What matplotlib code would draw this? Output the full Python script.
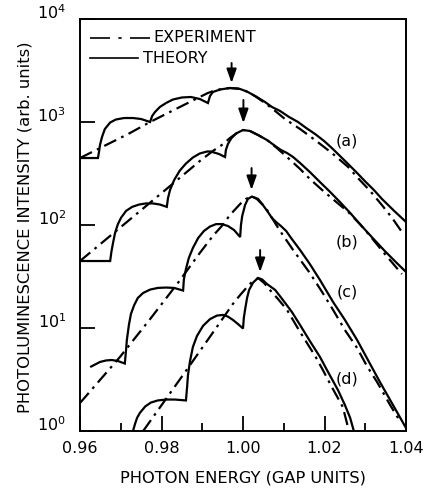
import matplotlib
matplotlib.use("Agg")
from matplotlib import pyplot as plt
from matplotlib.lines import Line2D
from matplotlib.ticker import NullLocator

# ---- data (photon energy in gap units, PL intensity arb. units) ----
theory_a_x = [0.9600, 0.9644, 0.9647, 0.9649, 0.9654, 0.9661, 0.9674, 0.9688, 0.9708, 0.9730,
              0.9750, 0.9772, 0.9777, 0.9784, 0.9796, 0.9811, 0.9828, 0.9850, 0.9872, 0.9894,
              0.9914, 0.9919, 0.9926, 0.9944, 0.9968, 0.9993, 1.0012, 1.0034, 1.0054, 1.0071,
              1.0091, 1.0113, 1.0135, 1.0155, 1.0177, 1.0199, 1.0218, 1.0238, 1.0258, 1.0280,
              1.0299, 1.0321, 1.0341, 1.0371, 1.0400]
theory_a_y = [447, 447, 523, 598, 715, 855, 989, 1057, 1093, 1093,
              1069, 1000, 1143, 1250, 1399, 1528, 1653, 1730, 1749, 1672,
              1528, 1788, 1955, 2069, 2138, 2091, 1955, 1749, 1564, 1399,
              1279, 1119, 1000, 875, 764, 654, 559, 468, 391, 320,
              267, 219, 179, 137, 107]

exp_a_x = [0.9600, 0.9718, 0.9772, 0.9840, 0.9894, 0.9914, 0.9931, 0.9948, 0.9968, 0.9988,
           1.0007, 1.0029, 1.0054, 1.0079, 1.0103, 1.0140, 1.0177, 1.0218, 1.0258, 1.0282,
           1.0312, 1.0341, 1.0366, 1.0390]
exp_a_y = [447, 764, 1000, 1367, 1749, 1914, 2022, 2091, 2138, 2115,
           2000, 1788, 1528, 1279, 1069, 855, 668, 500, 366, 286,
           214, 156, 117, 85.5]

theory_b_x = [0.9600, 0.9674, 0.9677, 0.9681, 0.9686, 0.9693, 0.9701, 0.9713, 0.9728, 0.9745,
              0.9762, 0.9779, 0.9796, 0.9813, 0.9816, 0.9821, 0.9831, 0.9845, 0.9860, 0.9877,
              0.9894, 0.9912, 0.9921, 0.9941, 0.9956, 0.9958, 0.9963, 0.9971, 0.9983, 1.0000,
              1.0017, 1.0037, 1.0059, 1.0079, 1.0093, 1.0108, 1.0123, 1.0140, 1.0164, 1.0189,
              1.0214, 1.0238, 1.0263, 1.0287, 1.0316, 1.0348, 1.0375, 1.0400]
theory_b_y = [44.7, 44.7, 54.7, 66.8, 83.6, 102, 118, 137, 150, 158,
              162, 162, 158, 150, 183, 219, 273, 338, 395, 452,
              495, 517, 517, 489, 457, 535, 611, 692, 773, 836,
              818, 747, 668, 585, 535, 500, 457, 400, 327, 261,
              209, 167, 131, 102, 76.4, 55.9, 43.7, 35.0]

exp_b_x = [0.9600, 0.9821, 0.9894, 0.9926, 0.9948, 0.9968, 0.9985, 1.0000, 1.0017, 1.0037,
           1.0059, 1.0083, 1.0108, 1.0140, 1.0164, 1.0194, 1.0226, 1.0258, 1.0287, 1.0316,
           1.0348, 1.0390]
exp_b_y = [44.7, 239, 418, 523, 598, 699, 782, 836, 818, 747,
           668, 559, 457, 350, 280, 219, 171, 134, 102, 74.8,
           52.3, 33.4]

theory_c_x = [0.9625, 0.9637, 0.9649, 0.9664, 0.9678, 0.9693, 0.9710, 0.9713, 0.9715, 0.9720,
              0.9725, 0.9733, 0.9742, 0.9755, 0.9772, 0.9791, 0.9811, 0.9831, 0.9853, 0.9855,
              0.9860, 0.9867, 0.9877, 0.9890, 0.9904, 0.9919, 0.9934, 0.9948, 0.9963, 0.9978,
              0.9993, 0.9995, 0.9998, 1.0005, 1.0012, 1.0022, 1.0034, 1.0049, 1.0061, 1.0071,
              1.0081, 1.0093, 1.0106, 1.0118, 1.0140, 1.0164, 1.0189, 1.0221, 1.0250, 1.0280,
              1.0304, 1.0336, 1.0368, 1.0400]
theory_c_y = [4.18, 4.42, 4.68, 4.84, 4.89, 4.78, 4.52, 6.11, 7.65, 10.7,
              13.7, 16.7, 19.6, 21.9, 23.6, 24.5, 24.7, 24.5, 23.1, 29.9,
              37.4, 47.8, 59.8, 74.8, 87.4, 96.7, 102, 102, 97.8, 89.4,
              76.4, 100, 122, 156, 179, 189, 179, 156, 134, 117,
              107, 97.8, 87.4, 74.8, 57.2, 41.8, 29.2, 17.9, 12.0, 7.65,
              5.11, 2.99, 1.79, 1.07]

exp_c_x = [0.9600, 0.9698, 0.9772, 0.9840, 0.9894, 0.9926, 0.9948, 0.9968, 0.9993, 1.0007,
           1.0022, 1.0037, 1.0059, 1.0091, 1.0123, 1.0164, 1.0194, 1.0221, 1.0250, 1.0280,
           1.0304, 1.0329, 1.0361, 1.0385]
exp_c_y = [1.87, 5.23, 12.2, 27.3, 53.5, 78.2, 97.8, 125, 160, 179,
           189, 179, 140, 87.4, 57.2, 34.2, 22.4, 15.0, 9.56, 6.40,
           4.28, 2.99, 1.79, 1.25]

theory_d_x = [0.9730, 0.9735, 0.9740, 0.9747, 0.9760, 0.9774, 0.9791, 0.9811, 0.9833, 0.9860,
              0.9863, 0.9865, 0.9870, 0.9877, 0.9887, 0.9902, 0.9919, 0.9936, 0.9951, 0.9963,
              0.9975, 0.9988, 1.0000, 1.0002, 1.0005, 1.0010, 1.0015, 1.0025, 1.0037, 1.0047,
              1.0059, 1.0079, 1.0098, 1.0120, 1.0140, 1.0164, 1.0189, 1.0206, 1.0233, 1.0250,
              1.0263, 1.0272]
theory_d_y = [1.00, 1.17, 1.34, 1.50, 1.73, 1.89, 1.98, 2.02, 2.02, 1.98,
              2.73, 3.50, 4.78, 6.54, 8.36, 10.5, 12.2, 13.2, 13.4, 12.9,
              12.0, 10.9, 9.89, 12.5, 15.0, 19.6, 23.4, 27.7, 30.6, 29.6,
              26.7, 23.4, 18.7, 14.3, 10.7, 7.48, 5.23, 3.91, 2.50, 1.79,
              1.34, 1.00]

exp_d_x = [0.9755, 0.9865, 0.9934, 0.9975, 0.9993, 1.0010, 1.0022, 1.0037, 1.0052, 1.0066,
           1.0086, 1.0108, 1.0140, 1.0177, 1.0196, 1.0218, 1.0245, 1.0260]
exp_d_y = [1.00, 4.09, 10.0, 17.1, 20.9, 25.0, 28.0, 30.6, 27.3, 23.4,
           19.1, 15.0, 9.15, 5.35, 3.91, 2.67, 1.71, 1.00]

# arrows marking the peaks: x, tail intensity, tip intensity
arrow_x = [0.9972, 1.0001, 1.0021, 1.0042]
arrow_tail = [3740, 1636, 357, 57.2]
arrow_tip = [2392, 977, 219, 35.0]

curve_labels = ["(a)", "(b)", "(c)", "(d)"]
label_x = [1.0255, 1.0255, 1.0255, 1.0255]
label_y = [654, 68.4, 22.4, 3.2]

x_ticks = [0.96, 0.98, 1.00, 1.02, 1.04]
x_tick_labels = ["0.96", "0.98", "1.00", "1.02", "1.04"]
x_minor = [0.97, 0.99, 1.01, 1.03]

plt.rcParams['font.family'] = ['DejaVu Sans']

fig = plt.figure(figsize=(4.30, 4.88), dpi=100)
ax = fig.add_axes([80 / 430, 1 - 431 / 488, 326 / 430, 412 / 488])

lw = 1.6
expStyle = (0, (6, 2.5, 1.2, 2.5))

theories = [(theory_a_x, theory_a_y), (theory_b_x, theory_b_y),
            (theory_c_x, theory_c_y), (theory_d_x, theory_d_y)]
exps = [(exp_a_x, exp_a_y), (exp_b_x, exp_b_y),
        (exp_c_x, exp_c_y), (exp_d_x, exp_d_y)]

for tx, ty in theories:
    ax.plot(tx, ty, color='black', lw=lw, solid_joinstyle='miter', solid_capstyle='butt')
for ex, ey in exps:
    ax.plot(ex, ey, color='black', lw=lw, linestyle=expStyle)

for x, tail, tip in zip(arrow_x, arrow_tail, arrow_tip):
    ax.annotate('', xy=(x, tip), xytext=(x, tail),
                arrowprops=dict(arrowstyle='-|>,head_length=0.7,head_width=0.25',
                                color='black', lw=1.4, mutation_scale=12,
                                shrinkA=0, shrinkB=0))

for lab, lx, ly in zip(curve_labels, label_x, label_y):
    ax.text(lx, ly, lab, fontsize=11.5, ha='center', va='center')

ax.set_yscale('log')
ax.set_xlim(0.96, 1.04)
ax.set_ylim(1, 1e4)
ax.set_xticks(x_ticks)
ax.set_xticklabels(x_tick_labels)
ax.set_xticks(x_minor, minor=True)
ax.yaxis.set_minor_locator(NullLocator())

ax.tick_params(which='both', direction='in', top=False, right=False,
               labelsize=11.5, width=1.3)
ax.tick_params(axis='x', which='major', length=11, pad=7)
ax.tick_params(axis='x', which='minor', length=6)
ax.tick_params(axis='y', which='major', length=11, pad=10)
for sp in ax.spines.values():
    sp.set_linewidth(1.4)

# the decade labels sit on their tick in the original
fig.canvas.draw()
for t in ax.get_yticklabels():
    t.set_verticalalignment('baseline')

ax.set_xlabel("PHOTON ENERGY (GAP UNITS)", fontsize=11.7)
ax.set_ylabel("PHOTOLUMINESCENCE INTENSITY (arb. units)", fontsize=11.8)
ax.xaxis.set_label_coords(0.5, -0.095)
ax.yaxis.set_label_coords(-0.147, 0.495)

# legend drawn by hand, top-left corner
ax.add_line(Line2D([0.031, 0.215], [0.954, 0.954], transform=ax.transAxes,
                   color='black', lw=1.2, linestyle=(0, (12, 5, 2, 5))))
ax.add_line(Line2D([0.031, 0.178], [0.905, 0.905], transform=ax.transAxes,
                   color='black', lw=1.2))
ax.text(0.224, 0.954, "EXPERIMENT", transform=ax.transAxes, fontsize=11.5, va='center')
ax.text(0.193, 0.905, "THEORY", transform=ax.transAxes, fontsize=11.5, va='center')

fig.savefig("out.png", dpi=100)
